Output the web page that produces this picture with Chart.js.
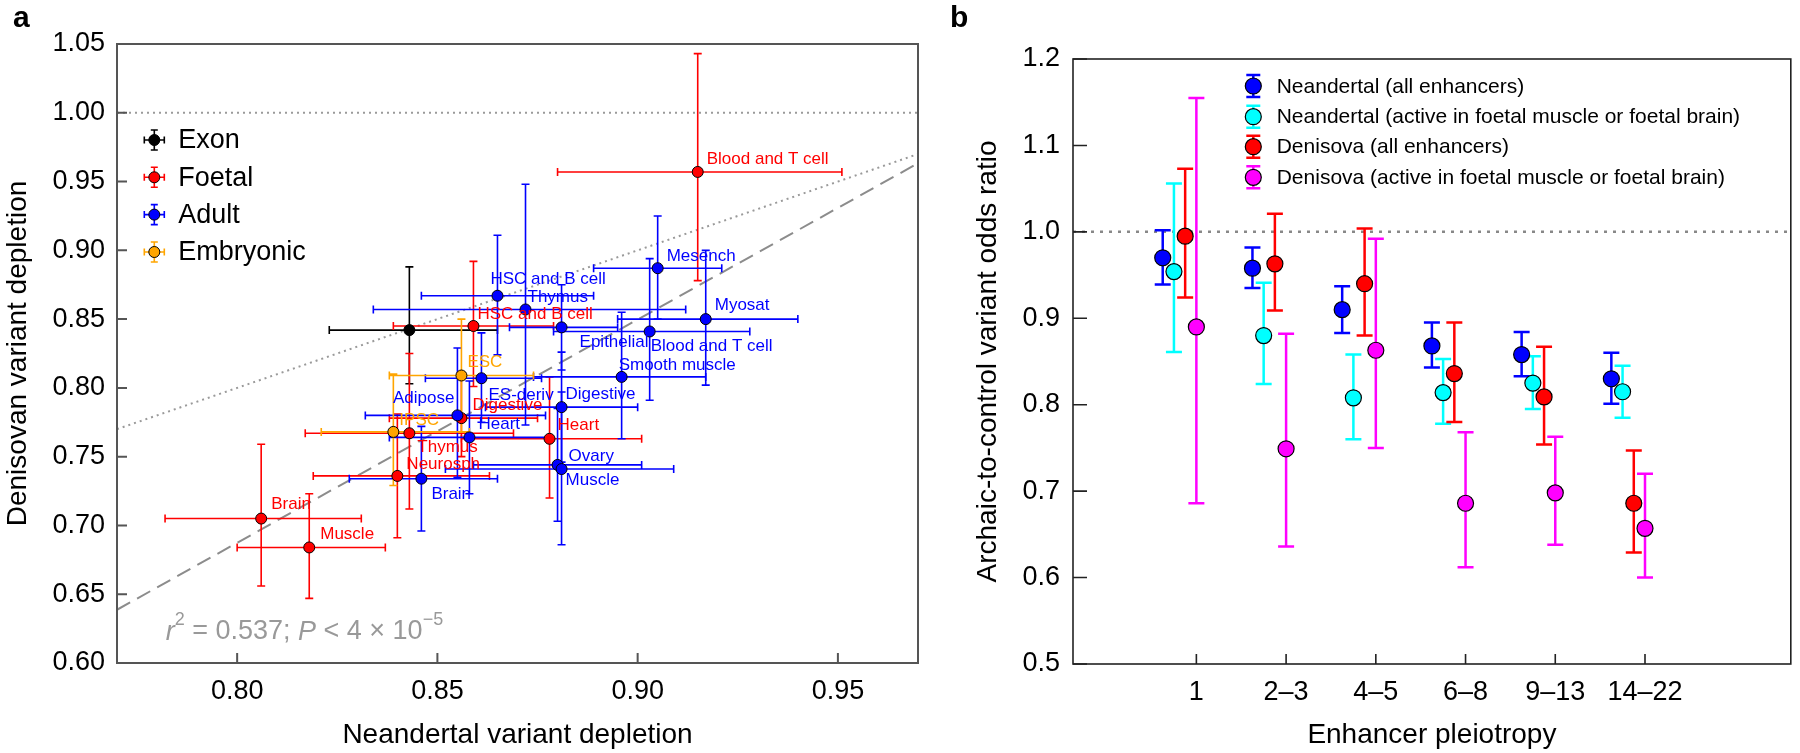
<!DOCTYPE html>
<html><head><meta charset="utf-8">
<script src="https://cdn.jsdelivr.net/npm/chart.js@4.4.1/dist/chart.umd.min.js"></script>
<style>
html,body{margin:0;padding:0;background:#fff;}
#wrap{position:relative;width:1800px;height:753px;overflow:hidden;background:#fff;}
canvas{position:absolute;top:0;}
#ca{left:0;}
#cb{left:950px;}
</style></head><body>
<div id="wrap"><canvas id="ca" width="950" height="753"></canvas><canvas id="cb" width="850" height="753"></canvas></div>
<script>
// ================= Panel a data =================
const depletionXTicks = [0.80, 0.85, 0.90, 0.95];
const depletionYTicks = [0.60, 0.65, 0.70, 0.75, 0.80, 0.85, 0.90, 0.95, 1.00, 1.05];

const exonLabels = [null];
const exonX   = [0.843];
const exonY   = [0.842];
const exonXLo = [0.823];
const exonXHi = [0.865];
const exonYLo = [0.803];
const exonYHi = [0.888];

const foetalLabels = ['Blood and T cell','HSC and B cell','Digestive','Heart','Thymus','Neurosph','Brain','Muscle'];
const foetalX   = [0.915, 0.859, 0.856, 0.878, 0.843, 0.840, 0.806, 0.818];
const foetalY   = [0.957, 0.845, 0.778, 0.763, 0.767, 0.736, 0.705, 0.684];
const foetalXLo = [0.880, 0.839, 0.838, 0.856, 0.817, 0.819, 0.782, 0.800];
const foetalXHi = [0.951, 0.879, 0.875, 0.901, 0.869, 0.863, 0.831, 0.837];
const foetalYLo = [0.878, 0.801, 0.750, 0.720, 0.712, 0.691, 0.656, 0.647];
const foetalYHi = [1.043, 0.892, 0.808, 0.808, 0.825, 0.781, 0.759, 0.723];

const adultLabels = ['HSC and B cell','Thymus','Mesench','Myosat','Epithelial','Blood and T cell','Smooth muscle','ES-deriv','Digestive','Adipose','Heart','Ovary','Muscle','Brain'];
const adultX   = [0.865, 0.872, 0.905, 0.917, 0.881, 0.903, 0.896, 0.861, 0.881, 0.855, 0.858, 0.880, 0.881, 0.846];
const adultY   = [0.867, 0.857, 0.887, 0.850, 0.844, 0.841, 0.808, 0.807, 0.786, 0.780, 0.764, 0.744, 0.741, 0.734];
const adultXLo = [0.846, 0.834, 0.889, 0.895, 0.868, 0.879, 0.874, 0.847, 0.862, 0.832, 0.838, 0.859, 0.852, 0.828];
const adultXHi = [0.889, 0.912, 0.921, 0.940, 0.895, 0.928, 0.917, 0.876, 0.900, 0.877, 0.878, 0.901, 0.909, 0.865];
const adultYLo = [0.824, 0.773, 0.850, 0.802, 0.813, 0.791, 0.763, 0.775, 0.746, 0.735, 0.723, 0.703, 0.686, 0.696];
const adultYHi = [0.911, 0.948, 0.925, 0.900, 0.875, 0.894, 0.855, 0.840, 0.826, 0.829, 0.805, 0.785, 0.797, 0.772];

const embryonicLabels = ['ESC','IPSC'];
const embryonicX   = [0.856, 0.839];
const embryonicY   = [0.809, 0.768];
const embryonicXLo = [0.838, 0.821];
const embryonicXHi = [0.874, 0.858];
const embryonicYLo = [0.768, 0.729];
const embryonicYHi = [0.850, 0.810];

const fitSlope = 1.623;
const fitIntercept = -0.611;
const statText = { r2: '0.537', p: '4 × 10', pExp: '−5' };

// ================= Panel b data =================
const pleiotropyBins = ['1', '2–3', '4–5', '6–8', '9–13', '14–22'];
const oddsTicks = [0.5, 0.6, 0.7, 0.8, 0.9, 1.0, 1.1, 1.2];

const neaAll     = [0.970, 0.958, 0.910, 0.868, 0.858, 0.830];
const neaAllLo   = [0.939, 0.935, 0.883, 0.843, 0.833, 0.801];
const neaAllHi   = [1.002, 0.982, 0.937, 0.895, 0.884, 0.860];
const neaFoetal   = [0.954, 0.880, 0.808, 0.814, 0.825, 0.815];
const neaFoetalLo = [0.861, 0.824, 0.760, 0.778, 0.795, 0.785];
const neaFoetalHi = [1.056, 0.941, 0.858, 0.853, 0.856, 0.845];
const denAll     = [0.995, 0.963, 0.940, 0.836, 0.809, 0.686];
const denAllLo   = [0.924, 0.909, 0.880, 0.780, 0.754, 0.629];
const denAllHi   = [1.073, 1.021, 1.004, 0.895, 0.867, 0.747];
const denFoetal   = [0.890, 0.749, 0.863, 0.686, 0.698, 0.657];
const denFoetalLo = [0.686, 0.636, 0.750, 0.612, 0.638, 0.600];
const denFoetalHi = [1.155, 0.882, 0.992, 0.768, 0.763, 0.720];

// ================= styling / layout =================
const FONT = '"Liberation Sans", Arial, Helvetica, sans-serif';

const groupsA = [
  {name:'Exon', color:'#000000', labels:exonLabels, x:exonX, y:exonY, xlo:exonXLo, xhi:exonXHi, ylo:exonYLo, yhi:exonYHi},
  {name:'Foetal', color:'#ff0000', labels:foetalLabels, x:foetalX, y:foetalY, xlo:foetalXLo, xhi:foetalXHi, ylo:foetalYLo, yhi:foetalYHi},
  {name:'Adult', color:'#0000ff', labels:adultLabels, x:adultX, y:adultY, xlo:adultXLo, xhi:adultXHi, ylo:adultYLo, yhi:adultYHi},
  {name:'Embryonic', color:'#ffa500', labels:embryonicLabels, x:embryonicX, y:embryonicY, xlo:embryonicXLo, xhi:embryonicXHi, ylo:embryonicYLo, yhi:embryonicYHi}
];

// label offsets in pixels relative to the point [dx, dy, align]
const labelOffsetsA = {
  'Foetal|Blood and T cell':[9,-13], 'Foetal|HSC and B cell':[4,-12], 'Foetal|Digestive':[11,-13],
  'Foetal|Heart':[8,-13], 'Foetal|Thymus':[8,14], 'Foetal|Neurosph':[9,-12], 'Foetal|Brain':[10,-14], 'Foetal|Muscle':[11,-13],
  'Adult|HSC and B cell':[-7,-16], 'Adult|Thymus':[2,-12], 'Adult|Mesench':[9,-12], 'Adult|Myosat':[9,-14],
  'Adult|Epithelial':[18,15], 'Adult|Blood and T cell':[1,15], 'Adult|Smooth muscle':[-3,-12], 'Adult|ES-deriv':[7,17],
  'Adult|Digestive':[4,-13], 'Adult|Adipose':[-3,-17,'right'], 'Adult|Heart':[9,-13], 'Adult|Ovary':[11,-9],
  'Adult|Muscle':[4,11], 'Adult|Brain':[10,16],
  'Embryonic|ESC':[6,-13], 'Embryonic|IPSC':[6,-12]
};

const seriesB = [
  {name:'Neandertal (all enhancers)', color:'#0000ff', v:neaAll, lo:neaAllLo, hi:neaAllHi, dodge:-0.375},
  {name:'Neandertal (active in foetal muscle or foetal brain)', color:'#00ffff', v:neaFoetal, lo:neaFoetalLo, hi:neaFoetalHi, dodge:-0.25},
  {name:'Denisova (all enhancers)', color:'#ff0000', v:denAll, lo:denAllLo, hi:denAllHi, dodge:-0.125},
  {name:'Denisova (active in foetal muscle or foetal brain)', color:'#ff00ff', v:denFoetal, lo:denFoetalLo, hi:denFoetalHi, dodge:0}
];

function seg(ctx, x1, y1, x2, y2){ ctx.moveTo(x1,y1); ctx.lineTo(x2,y2); }

// ================= Panel a plugin =================
const panelAPlugin = {
  id:'panelA',
  beforeDatasetsDraw(chart){
    const {ctx, chartArea:a} = chart; const xs = chart.scales.x, ys = chart.scales.y;
    ctx.save();
    ctx.beginPath(); ctx.rect(a.left, a.top, a.right-a.left, a.bottom-a.top); ctx.clip();
    ctx.strokeStyle = '#9a9a9a'; ctx.lineWidth = 2; ctx.setLineDash([2,4]);
    ctx.beginPath(); seg(ctx, a.left, ys.getPixelForValue(1.0), a.right, ys.getPixelForValue(1.0)); ctx.stroke();
    ctx.beginPath(); seg(ctx, xs.getPixelForValue(xs.min), ys.getPixelForValue(xs.min), xs.getPixelForValue(xs.max), ys.getPixelForValue(xs.max)); ctx.stroke();
    ctx.strokeStyle = '#8c8c8c'; ctx.setLineDash([15,8]);
    ctx.beginPath(); seg(ctx, xs.getPixelForValue(xs.min), ys.getPixelForValue(fitSlope*xs.min+fitIntercept), xs.getPixelForValue(xs.max), ys.getPixelForValue(fitSlope*xs.max+fitIntercept)); ctx.stroke();
    ctx.setLineDash([]);
    const cap = 4;
    groupsA.forEach(g => {
      ctx.strokeStyle = g.color; ctx.lineWidth = 1.6;
      g.x.forEach((xv, i) => {
        const px = xs.getPixelForValue(xv), py = ys.getPixelForValue(g.y[i]);
        const x1 = xs.getPixelForValue(g.xlo[i]), x2 = xs.getPixelForValue(g.xhi[i]);
        const y1 = ys.getPixelForValue(g.ylo[i]), y2 = ys.getPixelForValue(g.yhi[i]);
        ctx.beginPath();
        seg(ctx, x1, py, x2, py); seg(ctx, x1, py-cap, x1, py+cap); seg(ctx, x2, py-cap, x2, py+cap);
        seg(ctx, px, y1, px, y2); seg(ctx, px-cap, y1, px+cap, y1); seg(ctx, px-cap, y2, px+cap, y2);
        ctx.stroke();
      });
    });
    ctx.restore();
  },
  afterDatasetsDraw(chart){
    const {ctx} = chart; const xs = chart.scales.x, ys = chart.scales.y;
    ctx.save();
    ctx.font = '17px ' + FONT; ctx.textBaseline = 'middle';
    groupsA.forEach(g => {
      ctx.fillStyle = g.color;
      g.labels.forEach((lab, i) => {
        if (!lab) return;
        const off = labelOffsetsA[g.name + '|' + lab] || [8,-12];
        ctx.textAlign = off[2] || 'left';
        ctx.fillText(lab, xs.getPixelForValue(g.x[i]) + off[0], ys.getPixelForValue(g.y[i]) + off[1]);
      });
    });
    const lx = 154.3, rows = [140, 177.3, 214.6, 252];
    groupsA.forEach((g, k) => {
      const y = rows[k];
      ctx.strokeStyle = g.color; ctx.lineWidth = 1.6;
      ctx.beginPath();
      seg(ctx, lx-10, y, lx+10, y); seg(ctx, lx-10, y-3.5, lx-10, y+3.5); seg(ctx, lx+10, y-3.5, lx+10, y+3.5);
      seg(ctx, lx, y-10, lx, y+10); seg(ctx, lx-3.5, y-10, lx+3.5, y-10); seg(ctx, lx-3.5, y+10, lx+3.5, y+10);
      ctx.stroke();
      ctx.beginPath(); ctx.arc(lx, y, 5.5, 0, Math.PI*2); ctx.fillStyle = g.color; ctx.fill();
      ctx.lineWidth = 1; ctx.strokeStyle = '#000'; ctx.stroke();
      ctx.fillStyle = '#000'; ctx.font = '27px ' + FONT; ctx.textAlign = 'left'; ctx.textBaseline = 'middle';
      ctx.fillText(g.name, 178.3, y + 1);
    });
    const parts = [['italic 27px '+FONT,'r',0],['18px '+FONT,'2',-12],['27px '+FONT,' = '+statText.r2+'; ',0],
                   ['italic 27px '+FONT,'P',0],['27px '+FONT,' < '+statText.p,0],['18px '+FONT,statText.pExp,-12]];
    let cx = 165.7; const cy = 632;
    ctx.fillStyle = '#999999'; ctx.textAlign = 'left'; ctx.textBaseline = 'middle';
    parts.forEach(([f,t,dy]) => { ctx.font = f; ctx.fillText(t, cx, cy+dy); cx += ctx.measureText(t).width; });
    ctx.restore();
  },
  afterDraw(chart){
    const {ctx, chartArea:a} = chart; const xs = chart.scales.x, ys = chart.scales.y;
    ctx.save();
    ctx.strokeStyle = '#555'; ctx.lineWidth = 2;
    ctx.strokeRect(a.left, a.top, a.right-a.left, a.bottom-a.top);
    ctx.beginPath();
    depletionXTicks.forEach(v => { const p = xs.getPixelForValue(v); seg(ctx, p, a.bottom, p, a.bottom-10); });
    depletionYTicks.forEach(v => { const p = ys.getPixelForValue(v); seg(ctx, a.left, p, a.left+10, p); });
    ctx.stroke();
    ctx.fillStyle = '#000'; ctx.font = '28px ' + FONT; ctx.textAlign = 'center'; ctx.textBaseline = 'middle';
    ctx.fillText('Neandertal variant depletion', (a.left+a.right)/2, 735);
    ctx.save(); ctx.translate(18, (a.top+a.bottom)/2); ctx.rotate(-Math.PI/2);
    ctx.fillText('Denisovan variant depletion', 0, 0); ctx.restore();
    ctx.font = 'bold 30px ' + FONT; ctx.textAlign = 'left';
    ctx.fillText('a', 13, 19);
    ctx.restore();
  }
};

const datasetsA = groupsA.slice().reverse().map(g => ({
  label: g.name,
  data: g.x.map((v, i) => ({x: v, y: g.y[i]})),
  pointRadius: 5.5, pointBackgroundColor: g.color, pointBorderColor: '#000', pointBorderWidth: 1,
  showLine: false
}));

new Chart(document.getElementById('ca'), {
  type: 'scatter',
  data: { datasets: datasetsA },
  options: {
    responsive: false, animation: false, devicePixelRatio: 1, events: [],
    layout: { padding: { left: 0, top: 44, right: 32, bottom: 0 } },
    plugins: { legend: { display: false }, tooltip: { enabled: false } },
    scales: {
      x: {
        type: 'linear', min: 0.77, max: 0.97,
        afterBuildTicks: s => { s.ticks = depletionXTicks.map(v => ({value: v})); },
        afterFit: s => { s.height = 90; },
        grid: { display: false, drawTicks: false }, border: { display: false },
        ticks: { color: '#000', padding: 12, font: { size: 27, family: FONT }, callback: v => Number(v).toFixed(2), maxRotation: 0, autoSkip: false }
      },
      y: {
        type: 'linear', min: 0.60, max: 1.05,
        afterBuildTicks: s => { s.ticks = depletionYTicks.map(v => ({value: v})); },
        afterFit: s => { s.width = 117; },
        grid: { display: false, drawTicks: false }, border: { display: false },
        ticks: { color: '#000', padding: 12, font: { size: 27, family: FONT }, callback: v => Number(v).toFixed(2), autoSkip: false }
      }
    }
  },
  plugins: [panelAPlugin]
});

// ================= Panel b =================
const panelBPlugin = {
  id:'panelB',
  beforeDatasetsDraw(chart){
    const {ctx, chartArea:a} = chart; const xs = chart.scales.x, ys = chart.scales.y;
    ctx.save();
    ctx.strokeStyle = '#888'; ctx.lineWidth = 2.5; ctx.setLineDash([3,6]);
    ctx.beginPath(); seg(ctx, a.left, ys.getPixelForValue(1.0), a.right, ys.getPixelForValue(1.0)); ctx.stroke();
    ctx.setLineDash([]);
    const cap = 8;
    seriesB.forEach(s => {
      ctx.strokeStyle = s.color; ctx.lineWidth = 2.5;
      s.v.forEach((v, i) => {
        const px = xs.getPixelForValue(i + s.dodge);
        const y1 = ys.getPixelForValue(s.lo[i]), y2 = ys.getPixelForValue(s.hi[i]);
        ctx.beginPath(); seg(ctx, px, y1, px, y2); seg(ctx, px-cap, y1, px+cap, y1); seg(ctx, px-cap, y2, px+cap, y2); ctx.stroke();
      });
    });
    ctx.restore();
  },
  afterDatasetsDraw(chart){
    const {ctx} = chart;
    ctx.save();
    const lx = 303.3, rows = [86, 116.7, 146.7, 177.3];
    seriesB.forEach((s, k) => {
      const y = rows[k];
      ctx.strokeStyle = s.color; ctx.lineWidth = 2.5;
      ctx.beginPath(); seg(ctx, lx, y-11, lx, y+11); seg(ctx, lx-7, y-11, lx+7, y-11); seg(ctx, lx-7, y+11, lx+7, y+11); ctx.stroke();
      ctx.beginPath(); ctx.arc(lx, y, 8, 0, Math.PI*2); ctx.fillStyle = s.color; ctx.fill();
      ctx.lineWidth = 1.2; ctx.strokeStyle = '#000'; ctx.stroke();
      ctx.fillStyle = '#000'; ctx.font = '21px ' + FONT; ctx.textAlign = 'left'; ctx.textBaseline = 'middle';
      ctx.fillText(s.name, 326.7, y + 1);
    });
    ctx.restore();
  },
  afterDraw(chart){
    const {ctx, chartArea:a} = chart; const xs = chart.scales.x, ys = chart.scales.y;
    ctx.save();
    ctx.strokeStyle = '#222'; ctx.lineWidth = 1.6;
    ctx.strokeRect(a.left, a.top, a.right-a.left, a.bottom-a.top);
    ctx.beginPath();
    pleiotropyBins.forEach((b, i) => { const p = xs.getPixelForValue(i); seg(ctx, p, a.bottom, p, a.bottom-10); });
    oddsTicks.forEach(v => { const p = ys.getPixelForValue(v); seg(ctx, a.left, p, a.left+14, p); });
    ctx.stroke();
    ctx.fillStyle = '#000'; ctx.font = '28px ' + FONT; ctx.textAlign = 'center'; ctx.textBaseline = 'middle';
    ctx.fillText('Enhancer pleiotropy', (a.left+a.right)/2, 735);
    ctx.save(); ctx.translate(38, (a.top+a.bottom)/2); ctx.rotate(-Math.PI/2);
    ctx.fillText('Archaic-to-control variant odds ratio', 0, 0); ctx.restore();
    ctx.font = 'bold 30px ' + FONT; ctx.textAlign = 'left';
    ctx.fillText('b', 0, 19);
    ctx.restore();
  }
};

const datasetsB = seriesB.slice().reverse().map(s => ({
  label: s.name,
  data: s.v.map((v, i) => ({x: i + s.dodge, y: v})),
  pointRadius: 8, pointBackgroundColor: s.color, pointBorderColor: '#000', pointBorderWidth: 1.2,
  showLine: false
}));

new Chart(document.getElementById('cb'), {
  type: 'scatter',
  data: { datasets: datasetsB },
  options: {
    responsive: false, animation: false, devicePixelRatio: 1, events: [],
    layout: { padding: { left: 0, top: 59, right: 7, bottom: 0 } },
    plugins: { legend: { display: false }, tooltip: { enabled: false } },
    scales: {
      x: {
        type: 'linear', min: -1.375, max: 6.625,
        afterBuildTicks: s => { s.ticks = pleiotropyBins.map((b, i) => ({value: i})); },
        afterFit: s => { s.height = 89; },
        grid: { display: false, drawTicks: false }, border: { display: false },
        ticks: { color: '#000', padding: 12, font: { size: 27, family: FONT }, callback: v => pleiotropyBins[Math.round(v)], maxRotation: 0, autoSkip: false }
      },
      y: {
        type: 'linear', min: 0.5, max: 1.2,
        afterBuildTicks: s => { s.ticks = oddsTicks.map(v => ({value: v})); },
        afterFit: s => { s.width = 123; },
        grid: { display: false, drawTicks: false }, border: { display: false },
        ticks: { color: '#000', padding: 13, font: { size: 27, family: FONT }, callback: v => Number(v).toFixed(1), autoSkip: false }
      }
    }
  },
  plugins: [panelBPlugin]
});
</script>
</body></html>
